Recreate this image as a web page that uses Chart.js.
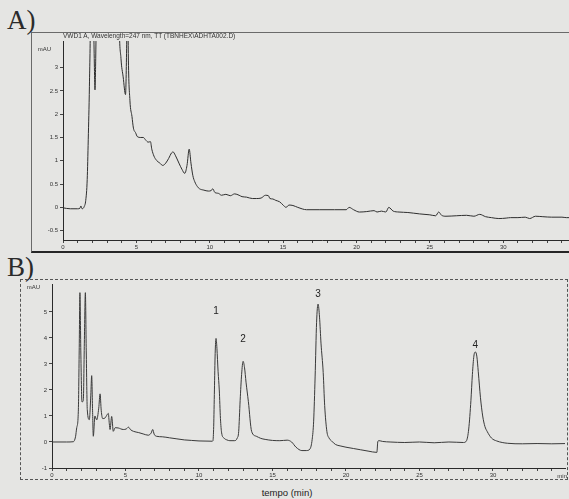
<!DOCTYPE html>
<html><head><meta charset="utf-8">
<script src="https://cdn.jsdelivr.net/npm/chart.js@4"></script>
<style>
html,body{margin:0;padding:0;width:569px;height:499px;overflow:hidden;background:#e5e5e3;}
#wrap{position:relative;width:569px;height:499px;overflow:hidden;}
.big{position:absolute;font-family:"Liberation Serif","DejaVu Serif",serif;font-size:27px;color:#2b2b2b;line-height:1;}
#frameA{position:absolute;left:31px;top:32px;width:560px;height:218px;border-left:1px solid #6a6a6a;border-top:1px solid #6a6a6a;border-bottom:2px solid #262626;}
#frameB{position:absolute;left:20px;top:279px;width:546px;height:199px;border:1px dashed #555;}
#cA{position:absolute;left:31px;top:32px;}
#cB{position:absolute;left:20px;top:279px;}
#titleA{position:absolute;left:63px;top:32px;font-family:"Liberation Sans",Arial,sans-serif;font-size:6.5px;color:#333;white-space:nowrap;}
#xlab{position:absolute;left:237px;top:487px;width:100px;text-align:center;font-family:"Liberation Sans",Arial,sans-serif;font-size:9.5px;color:#222;}
</style></head>
<body><div id="wrap">
<div class="big" style="left:7px;top:7px;">A)</div>
<div class="big" style="left:7px;top:254px;">B)</div>
<div id="frameA"></div>
<div id="frameB"></div>
<canvas id="cA" width="560" height="219"></canvas>
<canvas id="cB" width="548" height="199"></canvas>
<div id="titleA">VWD1 A, Wavelength=247 nm, TT (TBNHEX\ADHTA002.D)</div>
<div id="xlab">tempo (min)</div>
</div>
<script>
// ---- Panel A data (time in min, signal in mAU) ----
const timeA = [0,0.5,1.0,1.15,1.22,1.3,1.45,1.55,1.65,1.72,1.8,1.88,1.95,2.05,2.14,2.18,2.23,2.3,2.4,3.7,3.82,3.95,4.1,4.26,4.34,4.4,4.45,4.56,4.7,4.8,4.95,5.06,5.3,5.47,5.65,5.8,5.96,6.05,6.2,6.37,6.6,6.8,7.0,7.2,7.4,7.5,7.65,7.9,8.1,8.3,8.45,8.6,8.72,8.85,8.98,9.15,9.3,9.6,9.9,10.1,10.2,10.35,10.6,10.8,11.1,11.4,11.7,12.0,12.2,12.5,12.9,13.2,13.5,13.8,14.0,14.1,14.3,14.5,14.76,15.0,15.2,15.4,15.67,16.0,16.6,17.5,18.5,19.3,19.5,19.8,20.2,20.7,21.2,21.4,21.7,22.0,22.2,22.5,22.9,23.5,24.3,25.0,25.4,25.6,25.8,26.1,26.8,27.5,28.0,28.4,28.8,29.2,29.7,30.2,30.5,31.0,31.5,31.8,32.2,32.7,33.3,34.0,34.3,35.3];
const signalA = [-0.01,-0.03,-0.03,-0.02,0.03,-0.03,0.02,0.15,0.6,1.45,2.6,4.5,9,5,3.0,2.52,3.2,5,9,9,4.2,3.2,2.8,2.42,3.5,5,3.3,2.3,1.95,1.7,1.6,1.52,1.5,1.5,1.44,1.40,1.41,1.25,1.1,1.01,0.95,0.9,0.95,1.05,1.17,1.19,1.12,0.95,0.82,0.73,0.9,1.25,0.95,0.68,0.55,0.45,0.40,0.37,0.35,0.36,0.4,0.32,0.3,0.26,0.28,0.25,0.29,0.26,0.23,0.22,0.19,0.19,0.2,0.26,0.25,0.19,0.18,0.15,0.12,0.05,0.0,0.05,0.04,0.0,-0.05,-0.05,-0.05,-0.05,0.0,-0.05,-0.1,-0.09,-0.07,-0.1,-0.08,-0.1,0.0,-0.08,-0.1,-0.11,-0.14,-0.16,-0.18,-0.1,-0.17,-0.19,-0.18,-0.17,-0.19,-0.15,-0.2,-0.22,-0.24,-0.23,-0.22,-0.22,-0.21,-0.24,-0.19,-0.2,-0.21,-0.21,-0.22,-0.22];

// ---- Panel B data ----
const timeB = [0,1.0,1.45,1.6,1.68,1.79,1.85,1.9,1.96,2.04,2.13,2.2,2.27,2.33,2.4,2.54,2.64,2.7,2.76,2.81,2.92,3.04,3.18,3.27,3.35,3.45,3.6,3.75,3.83,3.9,3.95,4.06,4.17,4.3,4.5,4.85,5.05,5.2,5.35,5.54,5.9,6.2,6.55,6.75,6.85,6.95,7.1,7.5,8.0,8.5,9.0,9.5,10.0,10.9,
 10.95,11.0,11.05,11.1,11.16,11.22,11.3,11.38,11.46,11.54,11.7,11.9,12.1,12.4,12.6,12.7,12.8,12.9,13.0,13.1,13.2,13.36,13.58,13.9,14.2,14.5,15.0,15.5,16.0,16.3,16.6,17.0,17.3,17.55,17.7,17.8,17.9,18.0,18.1,18.2,18.3,18.45,18.55,18.7,18.85,19.0,19.3,19.6,20.0,20.5,21.0,21.5,22.1,22.17,22.25,22.5,23.0,24.0,25.0,26.0,27.0,28.0,28.2,28.35,28.5,28.6,28.7,28.8,28.9,29.0,29.15,29.3,29.45,29.6,29.9,30.25,31.0,32.0,33.0,34.0,35.0];
const signalB = [0,0,0.01,0.2,0.54,1.16,3.5,5.74,3.5,1.54,1.6,3.8,5.74,3.5,1.24,0.86,1.8,2.55,1.2,0.22,1.0,0.85,1.3,1.85,1.2,0.9,0.92,1.05,1.1,0.7,0.48,0.98,0.41,0.55,0.54,0.48,0.5,0.57,0.47,0.41,0.36,0.31,0.26,0.35,0.48,0.3,0.22,0.2,0.16,0.12,0.08,0.06,0.04,0.03,
 0.05,0.6,2.0,3.4,3.98,3.6,2.7,2.0,0.9,0.35,0.15,0.08,0.05,0.05,0.15,0.4,1.6,2.6,3.1,2.85,2.3,1.55,0.41,0.22,0.14,0.1,0.06,0.05,0.07,0.0,-0.2,-0.33,-0.33,-0.27,0.1,0.8,2.5,4.6,5.3,4.8,3.8,2.67,1.4,0.41,0.15,0.05,-0.1,-0.15,-0.2,-0.25,-0.3,-0.35,-0.4,0.03,0.05,0.02,0.0,-0.02,0.0,-0.03,0.0,-0.02,0.05,0.5,1.6,2.6,3.3,3.46,3.3,2.7,1.7,1.0,0.6,0.41,0.15,0.04,-0.05,-0.07,-0.06,-0.07,-0.06];

// ---- Peak annotations (panel B) ----
const peakNames = ['1','2','3','4'];
const peakTimes = [11.16, 13.0, 18.1, 28.8];
const peakLabelLevels = [5.04, 3.95, 5.68, 3.72];

// ---- Tick values ----
const xTicks = [0,1,2,3,4,5,6,7,8,9,10,11,12,13,14,15,16,17,18,19,20,21,22,23,24,25,26,27,28,29,30,31,32,33,34,35];
const xTickLabelStep = 5;
const yTicksA = [-0.5,0,0.5,1,1.5,2,2.5,3];
const yTicksB = [-1,0,1,2,3,4,5];

const toPts = (xs, ys) => xs.map((x, i) => ({x, y: ys[i]}));
const FONT = {family: '"Liberation Sans", Arial, sans-serif', size: 6};

function xScale(max, h, dash) {
  return {
    type: 'linear', min: 0, max: max,
    afterBuildTicks: s => { s.ticks = xTicks.filter(v => v <= max).map(v => ({value: v})); },
    afterFit: s => { s.height = h; },
    ticks: {autoSkip: false, maxRotation: 0, padding: 1, color: '#333', font: FONT,
      callback: v => (v % xTickLabelStep === 0 ? String(v) : '')},
    grid: {drawOnChartArea: false, drawTicks: true, tickLength: 3, color: '#444'},
    border: {display: true, color: '#2a2a2a', width: 1, dash: dash}
  };
}
function yScale(min, max, ticks, w, dash) {
  return {
    type: 'linear', min: min, max: max,
    afterBuildTicks: s => { s.ticks = ticks.map(v => ({value: v})); },
    afterFit: s => { s.width = w; },
    ticks: {autoSkip: false, padding: 2, color: '#333', font: FONT, callback: v => String(v)},
    grid: {drawOnChartArea: false, drawTicks: true, tickLength: 3, color: '#444'},
    border: {display: true, color: '#2a2a2a', width: 1, dash: dash}
  };
}

const unitPlugin = {
  id: 'units',
  afterDraw(chart, args, opts) {
    const {ctx, chartArea} = chart;
    ctx.save();
    ctx.fillStyle = '#333';
    ctx.font = '6px "Liberation Sans", Arial, sans-serif';
    ctx.textAlign = 'right';
    ctx.textBaseline = 'middle';
    ctx.fillText('mAU', chartArea.left - 12, chartArea.top + opts.mauDy);
    if (opts.showMin) {
      ctx.textAlign = 'right';
      ctx.fillText('min', chartArea.right + 2, chartArea.bottom + 8);
    }
    if (opts.peaks) {
      const xs = chart.scales.x, ys = chart.scales.y;
      ctx.fillStyle = '#222';
      ctx.font = '10px "Liberation Sans", Arial, sans-serif';
      ctx.textAlign = 'center';
      peakNames.forEach((n, i) => {
        ctx.fillText(n, xs.getPixelForValue(peakTimes[i]), ys.getPixelForValue(peakLabelLevels[i]));
      });
    }
    ctx.restore();
  }
};

const lineDs = (xs, ys, color) => ({
  data: toPts(xs, ys), borderColor: color, borderWidth: 1, pointRadius: 0,
  tension: 0.3, cubicInterpolationMode: 'monotone', fill: false
});

new Chart(document.getElementById('cA'), {
  type: 'line',
  data: {datasets: [lineDs(timeA, signalA, '#2e2e2e')]},
  options: {
    responsive: false, animation: false, parsing: false,
    layout: {padding: {top: 9, right: 10, left: 0, bottom: 0}},
    plugins: {legend: {display: false}, tooltip: {enabled: false}, units: {mauDy: 8, showMin: false}},
    scales: {x: xScale(35.3, 11, []), y: yScale(-0.7, 3.57, yTicksA, 32, [])}
  },
  plugins: [unitPlugin]
});

new Chart(document.getElementById('cB'), {
  type: 'line',
  data: {datasets: [lineDs(timeB, signalB, '#3a3a3a')]},
  options: {
    responsive: false, animation: false, parsing: false,
    layout: {padding: {top: 1, right: 3, left: 0, bottom: 0}},
    plugins: {legend: {display: false}, tooltip: {enabled: false}, units: {mauDy: 3, showMin: true, peaks: true}},
    scales: {x: xScale(34.9, 10, [2, 1]), y: yScale(-1, 6.05, yTicksB, 32, [2, 1])}
  },
  plugins: [unitPlugin]
});
</script>
</body></html>
